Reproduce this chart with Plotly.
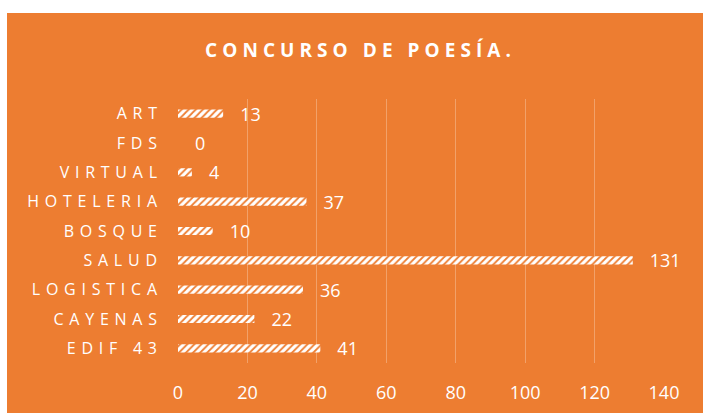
import plotly.graph_objects as go

categories = ["ART", "FDS", "VIRTUAL", "HOTELERIA", "BOSQUE", "SALUD", "LOGISTICA", "CAYENAS", "EDIF 43"]
values = [13, 0, 4, 37, 10, 131, 36, 22, 41]
x_ticks = [0, 20, 40, 60, 80, 100, 120, 140]
title_text = "CONCURSO DE POESÍA."

ORANGE = "#ED7D31"
GRID = "#F2A169"

def spaced(s, sep=" "):
    return sep.join(list(s))

labels = [spaced(c, " \u200a") for c in categories]

fig = go.Figure(go.Bar(
    x=values,
    y=labels,
    orientation="h",
    width=0.28,
    marker=dict(
        color="white",
        line=dict(color="white", width=0),
        pattern=dict(shape="/", fgcolor=ORANGE, bgcolor="white", size=5, solidity=0.35, fillmode="replace"),
    ),
    text=values,
    texttemplate="   %{x}",
    textposition="outside",
    constraintext="none",
    cliponaxis=False,
    textfont=dict(color="white", size=18, family="Open Sans"),
))

L, R, T, B = 178, 39, 99, 53
W, H = 703, 416
pw, ph = W - L - R, H - T - B

def px_x(p):
    return (p - L) / pw

def px_y(p):
    return (H - B - p) / ph

shapes = [
    dict(type="rect", xref="paper", yref="paper", x0=px_x(0), x1=px_x(7), y0=px_y(416), y1=px_y(0),
         fillcolor="white", line=dict(width=0), layer="below"),
    dict(type="rect", xref="paper", yref="paper", x0=px_x(0), x1=px_x(703), y0=px_y(13), y1=px_y(0),
         fillcolor="white", line=dict(width=0), layer="below"),
    dict(type="rect", xref="paper", yref="paper", x0=px_x(0), x1=px_x(703), y0=px_y(416), y1=px_y(413),
         fillcolor="white", line=dict(width=0), layer="below"),
]

fig.update_layout(
    width=W, height=H,
    margin=dict(l=L, r=R, t=T, b=B),
    paper_bgcolor=ORANGE,
    plot_bgcolor=ORANGE,
    showlegend=False,
    shapes=shapes,
    title=dict(text=spaced(title_text, "\u2009\u200a"), x=358 / W, xanchor="center", y=1 - 50 / H, yanchor="middle",
               font=dict(family="Open Sans", size=19, color="white", weight="bold")),
    xaxis=dict(range=[0, 140], tickvals=x_ticks, showgrid=True, gridcolor=GRID, gridwidth=1,
               zeroline=False, showline=False, ticks="", automargin=False,
               tickfont=dict(family="Open Sans", size=18, color="white"), ticklabelstandoff=17),
    yaxis=dict(autorange="reversed", showgrid=False, zeroline=False, showline=False, ticks="", automargin=False,
               tickfont=dict(family="Open Sans", size=16, color="white"), ticklabelstandoff=20),
    bargap=0.7,
)

fig.write_html("out.html", config={"displayModeBar": False},
               post_script="document.body.style.margin='0';document.body.style.overflow='hidden';")
